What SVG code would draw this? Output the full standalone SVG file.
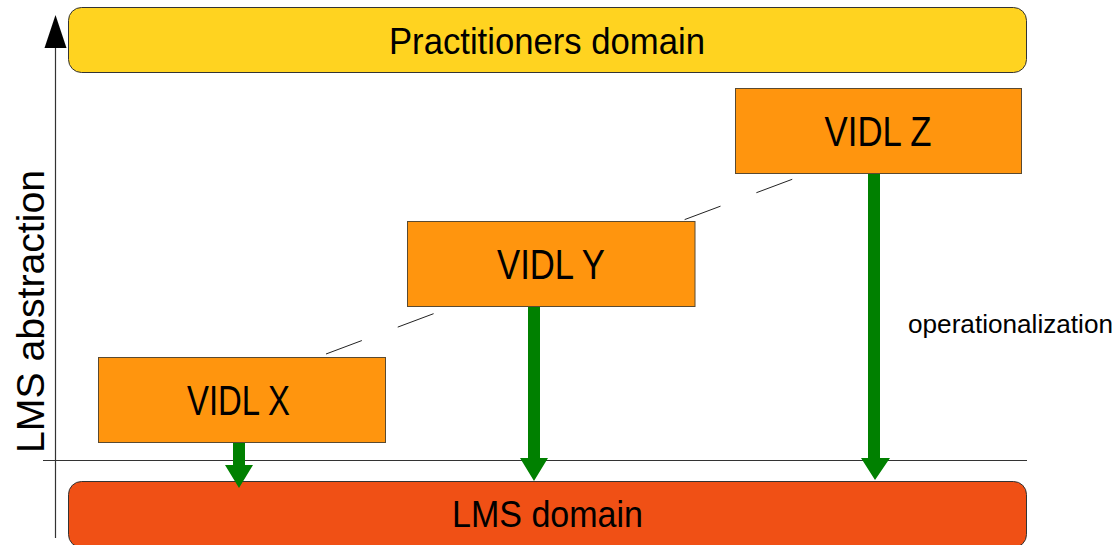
<svg xmlns="http://www.w3.org/2000/svg" width="1116" height="545" viewBox="0 0 1116 545">
<style>
.t{font-family:"Liberation Sans",Arial,sans-serif;fill:#000}
.vidl{fill:#ff950e;stroke:#5a4a30;stroke-width:1}
.ax{stroke:#333;stroke-width:1.2;fill:none}
.gr{fill:#008000}
</style>
<rect width="1116" height="545" fill="#fff"/>
<g id="axes">
<line class="ax" x1="55.5" y1="46" x2="55.5" y2="538"/>
<polygon points="55.5,15 44.5,48 66.5,48" fill="#000"/>
<line class="ax" x1="43" y1="460.5" x2="1027" y2="460.5"/>
<text class="t" x="44" y="311.5" font-size="39" text-anchor="middle" textLength="283" lengthAdjust="spacingAndGlyphs" transform="rotate(-90 44 311.5)">LMS abstraction</text>
</g>
<g id="trend">
<line x1="326" y1="354" x2="793" y2="179" stroke="#222" stroke-width="1" stroke-dasharray="38.3 38.3"/>
</g>
<g id="practitioners">
<rect x="68.5" y="7.5" width="958" height="65" rx="13" fill="#ffd320" stroke="#333" stroke-width="1"/>
<text class="t" x="547" y="54" font-size="37.5" text-anchor="middle" textLength="316" lengthAdjust="spacingAndGlyphs">Practitioners domain</text>
</g>
<g id="lms">
<rect x="68.5" y="481.5" width="958" height="66" rx="13" fill="#f05015" stroke="#333" stroke-width="1"/>
<text class="t" x="547.5" y="527" font-size="37.5" text-anchor="middle" textLength="191" lengthAdjust="spacingAndGlyphs">LMS domain</text>
</g>
<g id="vidlx">
<rect class="vidl" x="98.5" y="357.5" width="287" height="85"/>
<text class="t" x="238.5" y="415" font-size="42" text-anchor="middle" textLength="103" lengthAdjust="spacingAndGlyphs">VIDL X</text>
</g>
<g id="vidly">
<rect class="vidl" x="407.5" y="221.5" width="287.5" height="85"/>
<text class="t" x="551" y="279" font-size="42" text-anchor="middle" textLength="108" lengthAdjust="spacingAndGlyphs">VIDL Y</text>
</g>
<g id="vidlz">
<rect class="vidl" x="735.5" y="88.5" width="286" height="85"/>
<text class="t" x="878" y="146" font-size="42" text-anchor="middle" textLength="107" lengthAdjust="spacingAndGlyphs">VIDL Z</text>
</g>
<g id="connectors">
<polygon class="gr" points="233,443 245,443 245,465 253,465 239,488 225,465 233,465"/>
<polygon class="gr" points="528,307 540,307 540,458 548,458 534,481 520,458 528,458"/>
<polygon class="gr" points="868,174 880,174 880,458 890,458 875,480 861,458 868,458"/>
<text class="t" x="908" y="333" font-size="26" textLength="205" lengthAdjust="spacingAndGlyphs">operationalization</text>
</g>
</svg>
